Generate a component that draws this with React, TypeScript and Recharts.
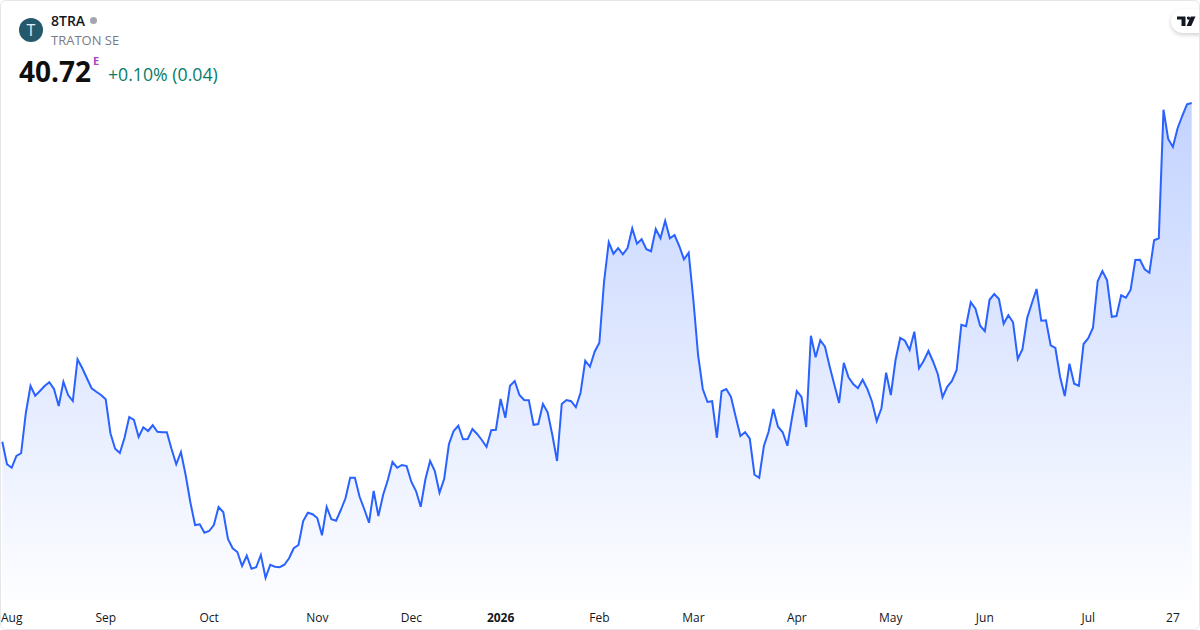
import { AreaChart, Area, XAxis, YAxis } from 'recharts';

const SYMBOL = '8TRA';
const COMPANY = 'TRATON SE';
const LAST_PRICE = '40.72';
const CHANGE = '+0.10% (0.04)';

// session offsets where the axis labels sit (trading days since the first point)
const TICK_DAYS = [2, 22, 44, 67, 87, 106, 127, 147, 169, 189, 209, 231, 249];
const TICK_LABELS = ['Aug', 'Sep', 'Oct', 'Nov', 'Dec', '2026', 'Feb', 'Mar', 'Apr', 'May', 'Jun', 'Jul', '27'];

const PRICES = [
  27.17, 26.27, 26.13, 26.6, 26.71, 28.31, 29.41, 29.01, 29.2, 29.4, 29.55, 29.28, 28.6, 29.57, 29.04, 28.8,
  30.47, 30.12, 29.71, 29.31, 29.17, 29.04, 28.87, 27.51, 26.89, 26.72, 27.33, 28.16, 28.04, 27.36, 27.75, 27.6,
  27.83, 27.57, 27.55, 27.55, 26.88, 26.27, 26.76, 25.84, 24.75, 23.84, 23.87, 23.53, 23.6, 23.84, 24.56, 24.36,
  23.28, 22.91, 22.76, 22.2, 22.61, 22.09, 22.15, 22.64, 21.73, 22.25, 22.17, 22.15, 22.25, 22.51, 22.91, 23.04,
  24.0, 24.33, 24.27, 24.12, 23.43, 24.56, 24.07, 24.01, 24.44, 24.91, 25.73, 25.73, 24.97, 24.47, 23.93, 25.2,
  24.2, 25.04, 25.64, 26.36, 26.13, 26.24, 26.2, 25.57, 25.2, 24.57, 25.67, 26.4, 26.0, 25.13, 25.69, 27.07,
  27.6, 27.81, 27.27, 27.28, 27.68, 27.48, 27.24, 26.96, 27.63, 27.65, 28.88, 28.13, 29.41, 29.6, 29.04, 28.84,
  28.83, 27.85, 27.88, 28.68, 28.35, 27.44, 26.4, 28.68, 28.84, 28.79, 28.55, 29.13, 30.41, 30.17, 30.77, 31.13,
  33.57, 35.15, 34.69, 34.92, 34.67, 34.92, 35.71, 35.09, 35.27, 34.87, 34.79, 35.68, 35.31, 36.01, 35.31, 35.44,
  35.0, 34.47, 34.73, 32.84, 30.64, 29.28, 28.76, 28.79, 27.33, 29.19, 29.28, 28.96, 28.17, 27.4, 27.55, 27.29,
  25.85, 25.73, 27.0, 27.57, 28.48, 27.77, 27.55, 27.01, 28.15, 29.2, 28.96, 27.76, 31.41, 30.55, 31.23, 30.97,
  30.17, 29.44, 28.72, 30.33, 29.75, 29.48, 29.31, 29.65, 29.28, 28.77, 28.0, 28.51, 29.93, 29.04, 30.44, 31.33,
  31.21, 30.84, 31.57, 30.11, 30.41, 30.8, 30.37, 29.87, 28.95, 29.37, 29.6, 30.04, 31.85, 31.79, 32.75, 32.49,
  31.81, 31.59, 32.85, 33.08, 32.88, 31.89, 32.23, 31.95, 30.48, 30.87, 32.12, 32.71, 33.28, 32.01, 32.03, 31.03,
  30.92, 29.77, 29.0, 30.29, 29.49, 29.41, 31.08, 31.31, 31.73, 33.59, 34.0, 33.63, 32.17, 32.2, 33.03, 32.93,
  33.24, 34.44, 34.45, 34.07, 33.93, 35.23, 35.31, 40.45, 39.28, 38.96, 39.71, 40.21, 40.67, 40.72,
];

const chartData = PRICES.map((price, day) => ({ day, price }));

function MonthTick({ x, y, index }: any) {
  const label = TICK_LABELS[index];
  return (
    <text
      x={x}
      y={y + 14}
      textAnchor="middle"
      fontSize={12}
      fontFamily="'Open Sans', sans-serif"
      fontWeight={label === '2026' ? 700 : 400}
      fill="#131722"
    >
      {label}
    </text>
  );
}

export default function App() {
  return (
    <div style={{ position: 'absolute', left: 0, top: 0, width: 1200, height: 630, background: '#fff', fontFamily: "'Open Sans', sans-serif", overflow: 'hidden' }}>
      <AreaChart width={1200} height={630} data={chartData} margin={{ top: 0, right: 8.3, bottom: 0, left: 2.3 }}>
        <defs>
          <linearGradient id="priceFill" x1="0" y1="0" x2="0" y2="1">
            <stop offset="0%" stopColor="#2962ff" stopOpacity={0.28} />
            <stop offset="100%" stopColor="#2962ff" stopOpacity={0.01} />
          </linearGradient>
        </defs>
        <XAxis
          dataKey="day"
          type="number"
          domain={[0, 253]}
          ticks={TICK_DAYS}
          interval={0}
          axisLine={false}
          tickLine={false}
          height={30}
          tick={<MonthTick />}
        />
        <YAxis hide domain={[20.84, 44.84]} />
        <Area
          type="linear"
          dataKey="price"
          stroke="#2962ff"
          strokeWidth={2}
          fill="url(#priceFill)"
          fillOpacity={1}
          isAnimationActive={false}
          dot={false}
          activeDot={false}
        />
      </AreaChart>

      {/* header */}
      <div style={{ position: 'absolute', left: 19, top: 18, width: 24, height: 24, borderRadius: '50%', background: '#24596b', color: '#e8eef0', fontSize: 16, lineHeight: '24px', textAlign: 'center' }}>T</div>
      <div style={{ position: 'absolute', left: 51, top: 12, fontSize: 14, fontWeight: 600, lineHeight: '18px', color: '#131722' }}>{SYMBOL}</div>
      <div style={{ position: 'absolute', left: 90, top: 17, width: 7, height: 7, borderRadius: '50%', background: '#a3a6af' }} />
      <div style={{ position: 'absolute', left: 51, top: 31, fontSize: 13, lineHeight: '18px', color: '#787b86' }}>{COMPANY}</div>
      <div style={{ position: 'absolute', left: 19, top: 52, fontSize: 28, fontWeight: 700, lineHeight: '38px', color: '#0f0f0f' }}>{LAST_PRICE}</div>
      <div style={{ position: 'absolute', left: 93, top: 54, fontSize: 11, fontWeight: 700, lineHeight: '14px', color: '#ab47bc' }}>E</div>
      <div style={{ position: 'absolute', left: 108, top: 62, fontSize: 17.7, lineHeight: '24px', color: '#067d68' }}>{CHANGE}</div>

      {/* logo badge */}
      <div style={{ position: 'absolute', left: 1171, top: 9, width: 44, height: 24, borderRadius: 12, background: '#fff', boxShadow: '0 2px 4px rgba(0,0,0,0.18)' }}>
        <svg width="20" height="11" viewBox="0 0 20 11" style={{ position: 'absolute', left: 5.5, top: 6.5 }}>
          <path d="M0 0.5h8.5v9.5H4.5V3.5H0z M11.5 0.5a1.6 1.6 0 1 0 .01 0z M13.8 0.5h4.7L14.2 10H9.6z" fill="#131722" />
        </svg>
      </div>

      {/* card border */}
      <div style={{ position: 'absolute', left: 0, top: 0, width: 1198, height: 628, border: '1px solid #e6e6e6', borderRadius: 6, pointerEvents: 'none' }} />
    </div>
  );
}
